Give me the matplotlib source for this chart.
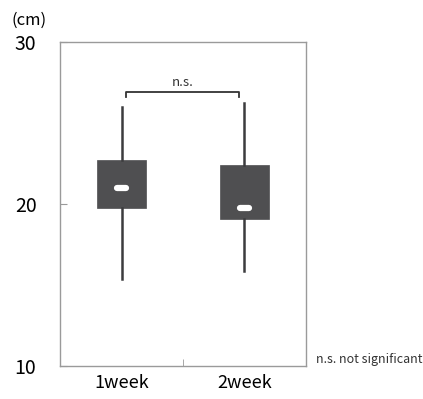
import matplotlib.pyplot as plt

plt.rcParams['font.family'] = ['Noto Sans CJK JP', 'DejaVu Sans']

groups = ['1week', '2week']
positions = [1, 2]
whislo = [15.35, 15.85]
q1 = [19.72, 19.05]
med = [20.95, 19.72]
q3 = [22.74, 22.43]
whishi = [26.0, 26.25]
bracket_y = 26.9
yticks = [10, 20, 30]

stats = []
for i in range(len(groups)):
    stats.append({'label': groups[i], 'whislo': whislo[i], 'q1': q1[i],
                  'med': med[i], 'q3': q3[i], 'whishi': whishi[i]})

fig = plt.figure(figsize=(4.23, 3.99), dpi=100)
ax = fig.add_axes([0.142, 0.083, 0.581, 0.812])

ax.bxp(stats, positions=positions, widths=0.4, showcaps=False, showfliers=False,
       patch_artist=True,
       boxprops=dict(facecolor='#4f4f51', edgecolor='#4f4f51', linewidth=0.5),
       whiskerprops=dict(color='#3c3c3e', linewidth=1.8),
       medianprops=dict(visible=False))

# white median marks
for p, m in zip(positions, med):
    ax.plot([p - 0.035, p + 0.035], [m, m], color='white', linewidth=4.5,
            solid_capstyle='round', zorder=5)

# significance bracket
ax.plot([1.04, 1.04, 1.96, 1.96],
        [bracket_y - 0.3, bracket_y, bracket_y, bracket_y - 0.3],
        color='#333333', linewidth=1.3)
ax.text(1.5, bracket_y + 0.2, 'n.s.', ha='center', va='bottom', fontsize=9.5,
        color='#333333')

ax.set_xlim(0.5, 2.5)
ax.set_ylim(10, 30)
ax.set_yticks(yticks)
ax.set_yticklabels([str(t) for t in yticks], fontsize=14)
ax.tick_params(axis='y', direction='in', length=5, color='#9a9a9a', pad=17)
ax.set_xticks([1.5], minor=True)
ax.set_xticks(positions)
ax.set_xticklabels(groups, fontsize=13)
ax.tick_params(axis='x', which='major', length=0, pad=6)
ax.tick_params(axis='x', which='minor', direction='in', length=5, color='#9a9a9a')

for s in ax.spines.values():
    s.set_color('#9a9a9a')
    s.set_linewidth(1.0)

fig.text(0.068, 0.948, '(cm)', ha='center', va='center', fontsize=12)
fig.text(0.747, 0.098, 'n.s. not significant', ha='left', va='center', fontsize=9,
         color='#333333')

fig.savefig('out.png', dpi=100)
